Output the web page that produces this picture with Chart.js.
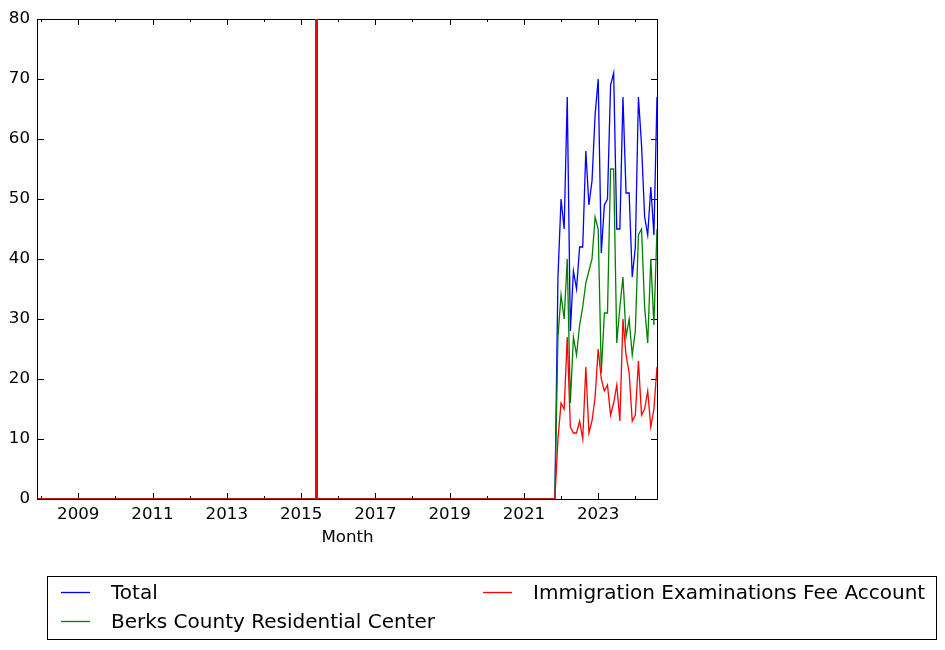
<!DOCTYPE html>
<html>
<head>
<meta charset="utf-8">
<script src="https://cdn.jsdelivr.net/npm/chart.js@4.4.0/dist/chart.umd.min.js"></script>
<style>
  body { margin: 0; background: #fff; }
</style>
</head>
<body>
<canvas id="chart" width="945" height="650"></canvas>
<script>
// monthly counts dated at month end; the zero months in between are left out
// (the line is flat at 0 there). The 2015-05 spike sits between two zero days.
let months = ['2007-11', '2015-05-24', '2015-05', '2015-06-07', '2021-10', '2021-11',
  '2021-12', '2022-01', '2022-02', '2022-03', '2022-04', '2022-05',
  '2022-06', '2022-07', '2022-08', '2022-09', '2022-10', '2022-11',
  '2022-12', '2023-01', '2023-02', '2023-03', '2023-04', '2023-05',
  '2023-06', '2023-07', '2023-08', '2023-09', '2023-10', '2023-11',
  '2023-12', '2024-01', '2024-02', '2024-03', '2024-04', '2024-05',
  '2024-06', '2024-07'];

let total = [0, 0, 4000, 0, 0, 37,
  50, 45, 67, 28, 38, 35,
  42, 42, 58, 49, 53, 64,
  70, 41, 49, 50, 69, 71,
  45, 45, 67, 51, 51, 37,
  42, 67, 59, 47, 44, 52,
  44, 67];

let berks = [0, 0, 0, 0, 0, 27,
  34, 30, 40, 16, 27, 24,
  29, 32, 36, 38, 40, 47,
  45, 21, 31, 31, 55, 55,
  26, 32, 37, 27, 30, 24,
  28, 44, 45, 32, 26, 40,
  29, 45];

let iefa = [0, 0, 4000, 0, 0, 10,
  16, 15, 27, 12, 11, 11,
  13, 10, 22, 11, 13, 17,
  25, 20, 18, 19, 14, 16,
  19, 13, 30, 24, 21, 13,
  14, 23, 14, 15, 18, 12,
  15, 22];

let xTickYears = [2009, 2011, 2013, 2015, 2017, 2019, 2021, 2023];
let minorYears = [2008, 2010, 2012, 2014, 2016, 2018, 2020, 2022, 2024];
let yTicks = [0, 10, 20, 30, 40, 50, 60, 70, 80];

let legendOrder = ['Total', 'Berks County Residential Center', 'Immigration Examinations Fee Account'];

// 'YYYY-MM' -> end of that month, 'YYYY-MM-DD' -> that day, as decimal years
function toX(s) {
    let [yr, mo, d] = s.split('-').map(Number);
    if (d === undefined) return yr + mo / 12;
    return yr + (mo - 1) / 12 + d / 365;
}

function points(values) {
    return months.map((m, i) => ({ x: toX(m), y: values[i] }));
}

const FONT = 'DejaVu Sans';
Chart.defaults.color = '#000';
Chart.defaults.font.family = FONT;

let frameAndTicks = {
    id: 'frameAndTicks',
    beforeDatasetsDraw(chart) {
        let { ctx, chartArea: a, scales: { x, y } } = chart;
        ctx.save();
        ctx.strokeStyle = '#000';
        ctx.lineWidth = 1;
        ctx.beginPath();
        let xt = (v, len) => {
            let px = Math.round(x.getPixelForValue(v)) + 0.5;
            ctx.moveTo(px, a.bottom); ctx.lineTo(px, a.bottom - len);
            ctx.moveTo(px, a.top); ctx.lineTo(px, a.top + len);
        };
        xTickYears.forEach(v => xt(v, 6));
        minorYears.forEach(v => xt(v, 3));
        yTicks.forEach(v => {
            let py = Math.round(y.getPixelForValue(v)) + 0.5;
            ctx.moveTo(a.left, py); ctx.lineTo(a.left + 6, py);
            ctx.moveTo(a.right, py); ctx.lineTo(a.right - 6, py);
        });
        ctx.stroke();
        ctx.strokeRect(Math.round(a.left) - 0.5, Math.round(a.top) + 0.5,
            Math.round(a.right - a.left) + 1, Math.round(a.bottom - a.top));
        ctx.restore();
    }
};

let legendBox = {
    id: 'legendBox',
    afterDraw(chart) {
        let ctx = chart.ctx;
        ctx.save();
        ctx.strokeStyle = '#000';
        ctx.lineWidth = 1;
        ctx.strokeRect(47.5, 576.5, 889, 63);
        ctx.font = '20px "' + FONT + '"';
        ctx.textBaseline = 'middle';
        ctx.fillStyle = '#000';
        let slots = [[61, 592.5], [61, 621.5], [483, 592.5]];
        legendOrder.forEach((label, i) => {
            let ds = chart.data.datasets.find(d => d.label === label);
            let [sx, sy] = slots[i];
            ctx.strokeStyle = ds.borderColor;
            ctx.lineWidth = 1.3;
            ctx.beginPath();
            ctx.moveTo(sx, sy);
            ctx.lineTo(sx + 29, sy);
            ctx.stroke();
            ctx.fillText(label, sx + 50, sy + 1);
        });
        ctx.restore();
    }
};

let lineStyle = { borderWidth: 1.3, pointRadius: 0, tension: 0, fill: false };

let chart = new Chart(document.getElementById('chart'), {
    type: 'line',
    data: {
        datasets: [
            { label: 'Total', data: points(total), borderColor: '#0000ff', order: 2, ...lineStyle },
            { label: 'Berks County Residential Center', data: points(berks), borderColor: '#008000', order: 1, ...lineStyle },
            { label: 'Immigration Examinations Fee Account', data: points(iefa), borderColor: '#ff0000', order: 0, ...lineStyle }
        ]
    },
    options: {
        responsive: false,
        devicePixelRatio: 1,
        animation: false,
        events: [],
        layout: { padding: { top: 19, right: 288, left: 0, bottom: 0 } },
        plugins: {
            legend: { display: false },
            tooltip: { enabled: false }
        },
        scales: {
            x: {
                type: 'linear',
                min: toX('2007-11'),
                max: toX('2024-07'),
                grid: { display: false, drawTicks: false },
                border: { display: false },
                afterBuildTicks: s => { s.ticks = xTickYears.map(v => ({ value: v })); },
                afterFit: s => { s.height = 151; },
                ticks: {
                    padding: 6,
                    maxRotation: 0,
                    autoSkip: false,
                    font: { size: 16.67 },
                    callback: v => String(v)
                },
                title: {
                    display: true,
                    text: 'Month',
                    font: { size: 16.67 },
                    padding: { top: 0, bottom: 102 }
                }
            },
            y: {
                min: 0,
                max: 80,
                grid: { display: false, drawTicks: false },
                border: { display: false },
                afterBuildTicks: s => { s.ticks = yTicks.map(v => ({ value: v })); },
                afterFit: s => { s.width = 38; },
                ticks: {
                    padding: 8,
                    font: { size: 16.67 }
                }
            }
        }
    },
    plugins: [frameAndTicks, legendBox]
});
</script>
</body>
</html>
